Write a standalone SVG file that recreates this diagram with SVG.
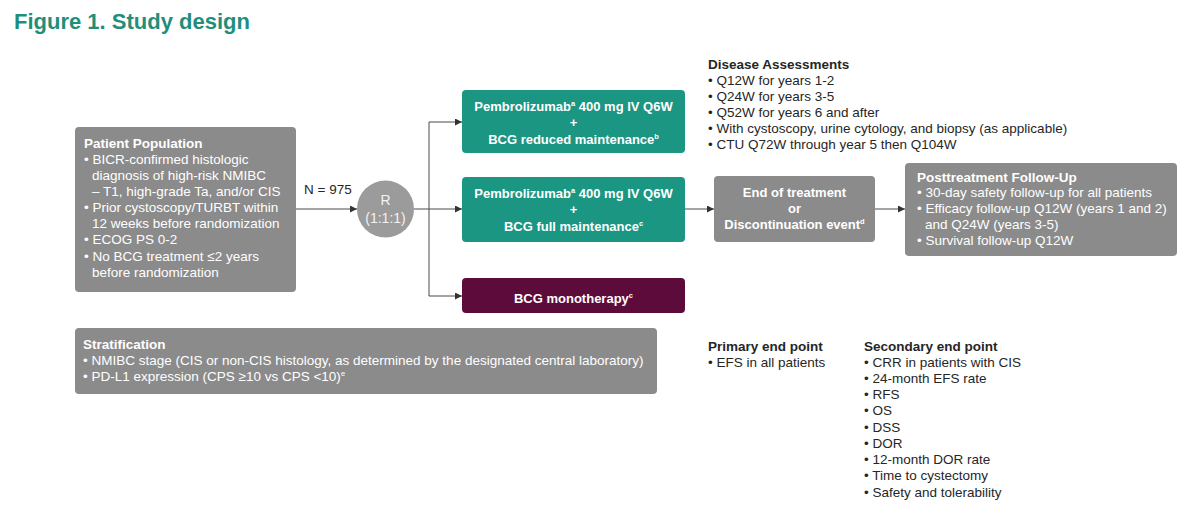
<svg xmlns="http://www.w3.org/2000/svg" width="1200" height="512" viewBox="0 0 1200 512">
<style>
text{font-family:"Liberation Sans",Arial,sans-serif;font-size:13.5px}
.w{fill:#ffffff}
.k{fill:#262626}
.b{font-weight:bold}
.c{text-anchor:middle}
.bx{font-size:13px}
.sup{font-size:7.5px}
.gray{fill:#8b8b8b}
.teal{fill:#1a9683}
.maroon{fill:#5d0b3b}
.ln{stroke:#4a4a4a;stroke-width:1;fill:none}
</style>
<defs>
<marker id="ah" markerUnits="userSpaceOnUse" markerWidth="7" markerHeight="7" refX="7" refY="3.5" orient="auto">
<path d="M0,0 L7,3.5 L0,7 z" fill="#333333"/>
</marker>
</defs>
<rect width="1200" height="512" fill="#ffffff"/>
<text x="14" y="29" class="b" style="font-size:22px;fill:#1f8f7b">Figure 1. Study design</text>

<g id="connectors">
<line class="ln" x1="296" y1="209" x2="357" y2="209" marker-end="url(#ah)"/>
<line class="ln" x1="414" y1="209" x2="462" y2="209" marker-end="url(#ah)"/>
<line class="ln" x1="429" y1="122" x2="429" y2="296"/>
<line class="ln" x1="429" y1="122" x2="462" y2="122" marker-end="url(#ah)"/>
<line class="ln" x1="429" y1="296" x2="462" y2="296" marker-end="url(#ah)"/>
<line class="ln" x1="685" y1="209" x2="714" y2="209" marker-end="url(#ah)"/>
<line class="ln" x1="875" y1="209" x2="905" y2="209" marker-end="url(#ah)"/>
<text x="304" y="194" class="k">N = 975</text>
</g>

<g id="patient-population">
<rect x="75" y="127" width="221" height="165" rx="4" class="gray"/>
<text x="84" y="148" class="w b">Patient Population</text>
<text x="84" y="164" class="w">• BICR-confirmed histologic</text>
<text x="92" y="180" class="w">diagnosis of high-risk NMIBC</text>
<text x="92" y="196" class="w">– T1, high-grade Ta, and/or CIS</text>
<text x="84" y="212" class="w">• Prior cystoscopy/TURBT within</text>
<text x="92" y="228" class="w">12 weeks before randomization</text>
<text x="84" y="244" class="w">• ECOG PS 0-2</text>
<text x="84" y="261" class="w">• No BCG treatment ≤2 years</text>
<text x="92" y="277" class="w">before randomization</text>
</g>

<g id="randomization">
<circle cx="385.5" cy="209" r="28.5" fill="#9b9b9b"/>
<text x="385.5" y="205" class="c" style="fill:#f2f2f2;font-size:14px">R</text>
<text x="385.5" y="223" class="c" style="fill:#f2f2f2;font-size:14px">(1:1:1)</text>
</g>

<g id="arm-reduced">
<rect x="462" y="90" width="223" height="63" rx="4" class="teal"/>
<text x="573.5" y="111" class="w b c bx">Pembrolizumab<tspan class="sup" dy="-5">a</tspan><tspan dy="5"> 400 mg IV Q6W</tspan></text>
<text x="573.5" y="127" class="w b c bx">+</text>
<text x="573.5" y="144" class="w b c bx">BCG reduced maintenance<tspan class="sup" dy="-5">b</tspan></text>
</g>

<g id="arm-full">
<rect x="462" y="177" width="223" height="65" rx="4" class="teal"/>
<text x="573.5" y="198" class="w b c bx">Pembrolizumab<tspan class="sup" dy="-5">a</tspan><tspan dy="5"> 400 mg IV Q6W</tspan></text>
<text x="573.5" y="214" class="w b c bx">+</text>
<text x="573.5" y="231" class="w b c bx">BCG full maintenance<tspan class="sup" dy="-5">c</tspan></text>
</g>

<g id="arm-bcg">
<rect x="462" y="278" width="223" height="35" rx="4" class="maroon"/>
<text x="573.5" y="303" class="w b c bx">BCG monotherapy<tspan class="sup" dy="-5">c</tspan></text>
</g>

<g id="end-of-treatment">
<rect x="714" y="176" width="161" height="66" rx="4" class="gray"/>
<text x="794.5" y="197" class="w b c bx">End of treatment</text>
<text x="794.5" y="213" class="w b c bx">or</text>
<text x="794.5" y="229" class="w b c bx">Discontinuation event<tspan class="sup" dy="-5">d</tspan></text>
</g>

<g id="posttreatment">
<rect x="905" y="163" width="272" height="93" rx="4" class="gray"/>
<text x="917" y="182" class="w b">Posttreatment Follow-Up</text>
<text x="917" y="197" class="w">• 30-day safety follow-up for all patients</text>
<text x="917" y="213" class="w">• Efficacy follow-up Q12W (years 1 and 2)</text>
<text x="925" y="229" class="w">and Q24W (years 3-5)</text>
<text x="917" y="245" class="w">• Survival follow-up Q12W</text>
</g>

<g id="disease-assessments">
<text x="708" y="69" class="k b">Disease Assessments</text>
<text x="708" y="85" class="k">• Q12W for years 1-2</text>
<text x="708" y="101" class="k">• Q24W for years 3-5</text>
<text x="708" y="117" class="k">• Q52W for years 6 and after</text>
<text x="708" y="133" class="k">• With cystoscopy, urine cytology, and biopsy (as applicable)</text>
<text x="708" y="149" class="k">• CTU Q72W through year 5 then Q104W</text>
</g>

<g id="stratification">
<rect x="75" y="328" width="582" height="66" rx="4" class="gray"/>
<text x="83" y="349" class="w b">Stratification</text>
<text x="83" y="365" class="w">• NMIBC stage (CIS or non-CIS histology, as determined by the designated central laboratory)</text>
<text x="83" y="381" class="w">• PD-L1 expression (CPS ≥10 vs CPS &lt;10)<tspan class="sup" dy="-5">e</tspan></text>
</g>

<g id="primary-endpoint">
<text x="708" y="351" class="k b">Primary end point</text>
<text x="708" y="367" class="k">• EFS in all patients</text>
</g>

<g id="secondary-endpoint">
<text x="864" y="351" class="k b">Secondary end point</text>
<text x="864" y="367" class="k">• CRR in patients with CIS</text>
<text x="864" y="383" class="k">• 24-month EFS rate</text>
<text x="864" y="399" class="k">• RFS</text>
<text x="864" y="415" class="k">• OS</text>
<text x="864" y="432" class="k">• DSS</text>
<text x="864" y="448" class="k">• DOR</text>
<text x="864" y="464" class="k">• 12-month DOR rate</text>
<text x="864" y="480" class="k">• Time to cystectomy</text>
<text x="864" y="497" class="k">• Safety and tolerability</text>
</g>
</svg>
